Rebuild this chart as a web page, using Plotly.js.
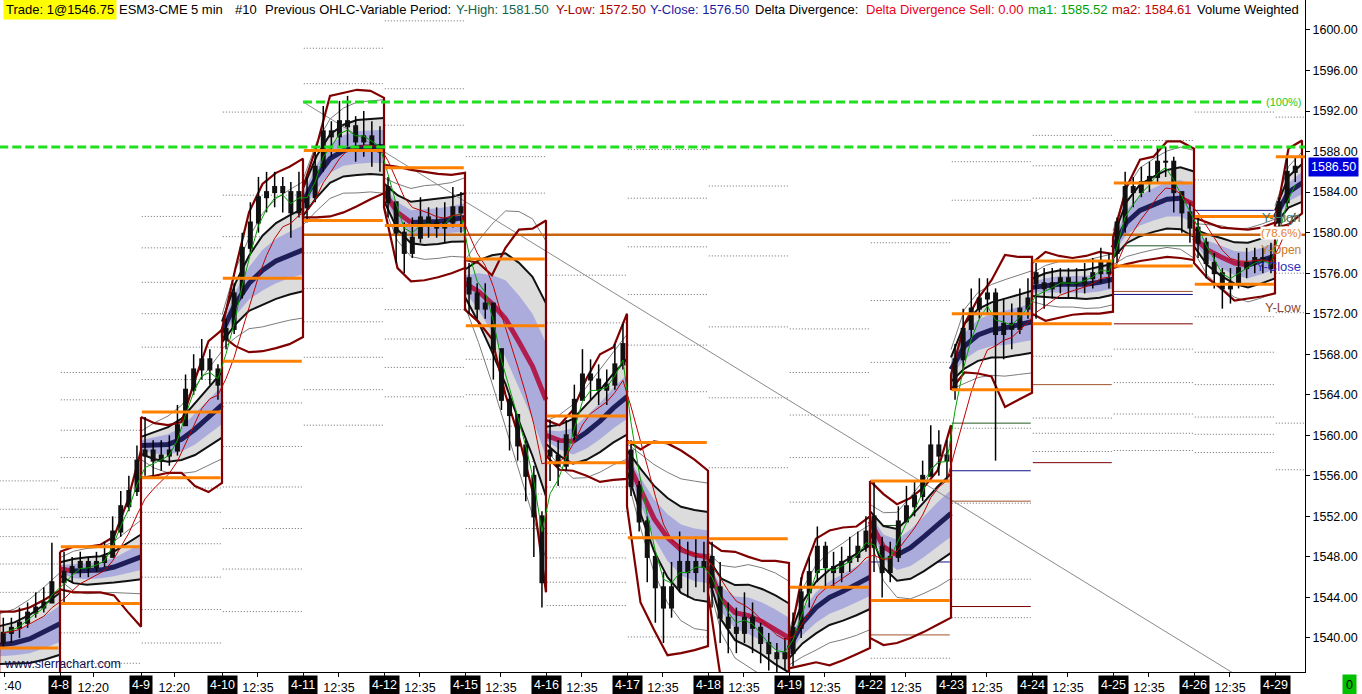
<!DOCTYPE html>
<html><head><meta charset="utf-8">
<script src="https://cdn.plot.ly/plotly-3.0.1.min.js"></script>
<style>html,body{margin:0;padding:0;background:#fff;overflow:hidden}#chart{width:1362px;height:694px}</style>
</head><body><div id="chart"></div>
<script>
// ---------------- DATA ----------------
// Session index -1 is the partial session before 4-8; 0..15 are the labelled sessions.
const sessionIndex = [-1,0,1,2,3,4,5,6,7,8,9,10,11,12,13,14,15];
const sessionLabels = ['4-8','4-9','4-10','4-11','4-12','4-15','4-16','4-17','4-18','4-19','4-22','4-23','4-24','4-25','4-26','4-29'];
const timeLabels = [':40','12:20','12:20','12:35','12:35','12:35','12:35','12:35','12:35','12:35','12:35','12:35','12:35','12:35','12:35','12:35'];

// Volume weighted average price per session (sampled through the session)
const vwap = [
 [1539.3,1539.5,1539.9,1540.6,1541.4],
 [1546.8,1546.6,1546.6,1546.7,1547.0,1547.5,1548.0],
 [1559.0,1559.0,1559.1,1559.6,1560.6,1561.8,1563.0],
 [1570.2,1573.0,1575.0,1576.3,1577.2,1577.8,1578.3],
 [1583.0,1585.5,1587.3,1588.1,1588.4,1588.5,1588.5],
 [1584.0,1582.0,1581.0,1581.0,1581.1,1581.3,1581.5],
 [1575.0,1574.2,1573.0,1571.5,1569.2,1566.8,1563.5],
 [1560.0,1559.5,1559.4,1560.3,1561.4,1562.7,1563.8],
 [1557.5,1554.5,1551.8,1549.9,1548.7,1548.2,1548.0],
 [1547.0,1543.8,1542.5,1542.2,1541.6,1540.8,1540.0],
 [1539.0,1541.5,1543.0,1544.0,1544.6,1545.3,1546.0],
 [1551.5,1549.0,1548.2,1548.9,1550.0,1551.2,1552.3],
 [1566.5,1568.8,1569.9,1570.4,1570.6,1570.9,1571.2],
 [1574.6,1574.8,1574.9,1574.9,1574.9,1575.1,1575.4],
 [1578.5,1581.0,1582.2,1582.8,1583.3,1583.4,1582.8],
 [1579.5,1578.3,1577.6,1577.0,1576.8,1577.2,1577.7],
 [1581.5,1584.0,1584.9]
];
// one standard deviation of the VWAP band
const stdDev = [
 [1.1,1.2,1.4,1.6,1.8],
 [0.4,0.7,0.8,0.8,0.9,1.1,1.3],
 [0.5,0.8,1.0,1.2,1.5,1.7,1.9],
 [0.6,1.2,1.6,2.0,2.2,2.3,2.4],
 [0.8,1.2,1.4,1.5,1.6,1.6,1.65],
 [0.5,1.0,1.2,1.3,1.3,1.3,1.4],
 [0.8,1.8,2.8,3.8,4.6,5.2,5.6],
 [0.5,0.9,1.3,1.6,1.8,2.0,2.2],
 [0.6,1.3,1.9,2.3,2.5,2.6,2.6],
 [0.5,1.2,1.6,1.8,1.9,2.0,2.0],
 [0.6,1.2,1.5,1.6,1.7,1.8,1.85],
 [0.6,1.2,1.5,1.8,2.0,2.2,2.3],
 [0.7,1.3,1.5,1.6,1.7,1.75,1.8],
 [0.5,0.7,0.8,0.8,0.85,0.9,0.9],
 [0.6,1.2,1.5,1.6,1.7,1.8,1.9],
 [0.5,0.9,1.1,1.2,1.3,1.3,1.3],
 [0.4,0.9,1.1]
];
const bandMultipliers = [1.0, 1.7, 2.8];
// session envelope (dark red)
const envHigh = [
 [1542.6,1542.6,1543.0,1543.8,1544.7],
 [1548.5,1549.0,1549.0,1549.2,1550.0,1553.5,1558.5],
 [1561.8,1561.2,1561.0,1561.3,1565.5,1569.3,1570.4],
 [1570.5,1576.5,1582.0,1584.8,1585.9,1586.5,1587.3],
 [1584.5,1588.5,1593.5,1593.8,1594.1,1594.0,1593.3],
 [1586.7,1586.5,1586.2,1586.0,1585.8,1585.7,1585.9],
 [1577.3,1577.0,1575.8,1578.5,1580.3,1580.4,1581.2],
 [1561.5,1561.0,1562.5,1565.6,1568.0,1568.7,1572.0],
 [1559.5,1558.6,1559.4,1559.2,1558.5,1557.6,1556.5],
 [1549.5,1548.6,1548.5,1548.0,1547.6,1547.6,1547.4],
 [1539.5,1546.3,1549.8,1550.6,1550.9,1551.0,1552.0],
 [1555.5,1554.2,1553.2,1553.8,1554.9,1556.5,1561.0],
 [1566.0,1571.0,1573.5,1575.3,1577.8,1577.6,1577.6],
 [1577.0,1578.1,1577.7,1577.5,1577.7,1578.1,1577.9],
 [1579.5,1584.5,1587.2,1587.5,1589.0,1589.0,1588.3],
 [1581.5,1581.0,1580.5,1580.4,1580.3,1580.5,1581.0],
 [1581.0,1588.3,1589.1]
];
const envLow = [
 [1534.0,1534.0,1534.0,1534.0,1534.0],
 [1544.8,1544.5,1544.5,1544.5,1544.2,1542.6,1541.1],
 [1555.8,1556.0,1556.3,1556.3,1555.0,1554.4,1555.3],
 [1569.8,1568.8,1568.2,1568.3,1568.6,1569.0,1569.7],
 [1581.5,1581.5,1581.6,1582.0,1582.6,1583.3,1583.9],
 [1582.5,1576.5,1575.2,1575.3,1575.6,1576.0,1576.5],
 [1572.4,1571.2,1569.5,1564.0,1559.8,1554.5,1544.5],
 [1558.0,1556.6,1556.5,1556.0,1555.4,1555.6,1555.7],
 [1553.0,1543.5,1540.8,1538.3,1538.5,1538.8,1539.2],
 [1544.5,1535.5,1534.5,1534.0,1534.0,1534.0,1534.0],
 [1537.0,1537.3,1537.6,1537.3,1537.8,1538.4,1539.0],
 [1540.0,1539.3,1539.5,1540.0,1540.6,1541.3,1542.0],
 [1564.5,1566.2,1566.1,1565.8,1562.8,1563.5,1564.2],
 [1572.0,1571.3,1571.6,1571.9,1572.0,1572.0,1572.2],
 [1576.5,1576.9,1577.2,1577.4,1577.6,1577.5,1577.3],
 [1577.0,1575.5,1574.5,1573.3,1573.5,1573.7,1574.0],
 [1580.5,1580.8,1581.9]
];
// price bars (open of first bar per session, then close/high/low)
const sessionOpen = [1539.5,1545.5,1558.0,1569.5,1582.5,1584.5,1575.5,1558.5,1558.5,1548.0,1538.5,1552.0,1564.5,1576.0,1578.0,1580.5,1581.0];
const closes = [
 [1540.5,1541.0,1541.5,1542.5,1543.0,1543.5,1545.5],
 [1546.5,1547.0,1547.5,1547.0,1547.5,1548.0,1550.5,1553.0,1554.5,1557.5],
 [1558.5,1557.5,1558.0,1558.5,1561.0,1564.5,1566.5,1567.5,1566.5,1565.0],
 [1570.5,1574.0,1578.5,1581.0,1583.5,1584.0,1584.5,1584.0,1582.0,1584.0],
 [1583.5,1586.5,1590.0,1589.5,1591.0,1590.5,1589.0,1589.5,1588.5,1588.0],
 [1583.0,1580.0,1578.0,1579.5,1581.5,1581.0,1580.5,1581.0,1582.5,1582.0],
 [1574.0,1572.5,1573.0,1568.5,1563.5,1562.0,1559.0,1556.0,1552.0,1545.5],
 [1558.0,1557.0,1560.0,1563.5,1566.0,1565.5,1564.5,1565.0,1567.0,1569.0],
 [1555.0,1551.5,1548.0,1545.0,1543.0,1545.0,1547.5,1546.5,1547.5,1547.0],
 [1545.0,1542.0,1541.0,1540.5,1542.0,1541.0,1539.5,1538.5,1538.0,1538.5],
 [1541.0,1544.5,1546.5,1549.0,1547.0,1546.5,1547.5,1548.0,1549.0,1550.5],
 [1549.0,1546.5,1548.0,1551.5,1553.0,1554.0,1556.0,1559.0,1558.0,1557.5],
 [1567.5,1570.5,1572.5,1573.5,1574.0,1570.0,1571.0,1570.5,1572.5,1573.5],
 [1575.0,1574.5,1575.0,1575.5,1575.0,1575.0,1575.5,1576.0,1577.0,1576.0],
 [1581.0,1584.5,1584.0,1585.0,1585.5,1587.0,1587.0,1584.0,1582.0,1580.5],
 [1579.0,1577.0,1576.0,1574.5,1575.0,1576.5,1577.0,1577.5,1577.5,1576.5],
 [1583.0,1586.0,1586.5]
];
const highs = [
 [1542.0,1542.0,1543.0,1543.5,1544.5,1545.0,1549.4],
 [1548.5,1548.0,1548.5,1548.0,1548.5,1549.5,1552.0,1554.5,1556.0,1559.0],
 [1561.8,1559.5,1559.5,1560.0,1563.0,1566.0,1568.0,1569.5,1568.5,1567.0],
 [1571.5,1575.0,1580.0,1583.0,1585.5,1586.0,1586.0,1585.5,1585.0,1586.0],
 [1585.5,1588.0,1592.5,1591.0,1593.0,1593.5,1591.5,1592.0,1591.0,1590.5],
 [1585.5,1583.0,1581.0,1581.5,1583.5,1582.5,1582.5,1583.0,1584.5,1584.0],
 [1577.0,1575.0,1575.0,1573.0,1568.5,1564.0,1562.0,1559.5,1557.0,1552.5],
 [1561.5,1559.5,1561.5,1565.0,1568.5,1567.5,1567.0,1566.5,1569.0,1571.0],
 [1559.5,1555.5,1552.0,1548.5,1546.5,1547.5,1550.5,1549.5,1550.0,1549.5],
 [1549.5,1547.5,1543.5,1543.0,1544.5,1543.5,1541.5,1540.5,1539.5,1540.0],
 [1542.5,1546.0,1548.0,1551.0,1549.5,1548.5,1549.0,1550.0,1550.5,1552.0],
 [1555.5,1550.0,1549.5,1553.0,1555.0,1555.5,1557.5,1561.0,1560.5,1559.5],
 [1569.0,1572.5,1574.5,1575.5,1575.5,1574.5,1573.5,1573.0,1574.5,1575.5],
 [1577.0,1576.5,1576.5,1576.5,1576.5,1576.5,1577.0,1577.5,1578.5,1578.0],
 [1581.5,1586.0,1585.5,1586.5,1587.0,1588.5,1588.5,1587.5,1584.0,1583.0],
 [1581.5,1579.5,1578.0,1576.5,1576.5,1578.0,1578.5,1578.5,1578.5,1579.0],
 [1583.5,1587.5,1587.5]
];
const lows = [
 [1539.0,1539.5,1540.0,1541.0,1542.0,1542.5,1543.5],
 [1543.5,1545.5,1546.0,1546.0,1546.5,1547.0,1548.0,1550.0,1552.5,1554.0],
 [1556.0,1556.0,1556.5,1557.0,1558.0,1561.0,1564.0,1565.5,1565.0,1563.5],
 [1568.5,1570.0,1573.5,1578.0,1580.0,1582.0,1582.5,1582.0,1579.5,1581.5],
 [1581.0,1583.0,1586.0,1587.5,1588.5,1588.5,1587.0,1587.5,1586.5,1586.0],
 [1581.5,1577.0,1576.0,1577.5,1579.0,1579.5,1579.5,1579.0,1580.5,1580.0],
 [1572.0,1571.5,1571.5,1565.5,1562.5,1558.5,1557.5,1553.5,1548.0,1543.0],
 [1555.5,1555.0,1556.5,1559.5,1563.5,1563.5,1563.0,1563.0,1564.5,1566.5],
 [1554.0,1550.5,1545.5,1541.5,1539.5,1542.0,1544.5,1544.0,1545.0,1544.5],
 [1543.0,1539.5,1538.5,1538.5,1539.5,1538.5,1537.5,1536.8,1536.5,1536.8],
 [1537.2,1540.0,1543.0,1545.5,1545.0,1545.0,1545.5,1546.5,1547.5,1548.5],
 [1546.5,1544.0,1545.5,1547.5,1551.5,1552.0,1553.5,1556.5,1556.0,1555.5],
 [1563.5,1566.5,1569.5,1571.5,1572.0,1557.5,1567.5,1568.5,1570.0,1571.5],
 [1571.5,1572.5,1573.5,1574.0,1573.5,1573.5,1574.0,1574.5,1575.0,1574.5],
 [1577.0,1580.0,1582.5,1583.5,1584.0,1585.0,1585.5,1582.0,1580.0,1579.0],
 [1577.5,1575.5,1574.5,1572.5,1573.0,1574.5,1575.5,1576.0,1576.0,1576.0],
 [1580.5,1582.5,1585.0]
];
// orange per-session lines
const orangeHigh = [null,1549.0,1562.3,1575.5,1588.1,1586.4,1577.4,1561.9,1559.3,1549.8,1545.0,1555.5,1572.0,1577.2,1584.9,1581.6,1587.5];
const orangeLow  = [1539.0,1543.4,1555.8,1567.3,1581.2,1580.7,1570.8,1557.3,1549.9,null,null,1543.7,1564.5,1571.0,1576.7,1574.9,null];
// previous-period OHLC lines
const prevHighLine  = [null,null,null,null,null,null,null,null,null,null,null,1551.1,1561.2,null,1578.7,null,null];
const prevCloseLine = [null,null,null,null,null,null,null,null,null,null,null,1547.5,1556.5,null,1573.9,1582.2,null];
const prevOpenLine  = [null,null,null,null,null,null,null,null,null,null,null,1540.3,1553.5,1565.0,1574.2,null,null];
const prevLowLine   = [null,null,null,null,null,null,null,null,null,null,null,null,1543.1,1557.3,1571.0,null,null];
// dotted per-session levels
const dottedLevels = [
 [1555.5,1552.7,1550.0,1547.3,1544.5],
 [1566.2,1563.5,1560.5,1557.8,1554.8,1551.9,1540.5,1537.5],
 [1581.6,1578.5,1575.1,1572.0,1568.7,1565.5,1554.8,1552.4,1549.3,1546.0,1542.8,1539.5],
 [1591.9,1583.7,1579.6,1563.2,1558.9,1554.9,1550.8,1546.8,1542.6],
 [1598.2,1594.7,1578.0,1574.5,1571.2,1567.7,1564.5,1561.0],
 [1600.9,1594.2,1590.6,1572.4,1569.5,1566.7,1563.8],
 [1587.5,1583.9,1567.5,1564.0,1560.9,1557.4,1554.2,1550.8],
 [1575.8,1571.1,1554.9,1552.5,1550.3,1547.9,1545.5,1543.2],
 [1588.2,1583.4,1578.6,1573.9,1568.9,1564.3,1540.1],
 [1584.6,1577.7,1570.7,1563.7,1556.8],
 [1570.5,1566.2,1562.0,1557.8,1553.4],
 [1579.0,1573.3,1567.2,1561.5,1538.0],
 [1587.0,1583.2,1560.7,1553.3,1545.8,1542.0],
 [1589.6,1586.6,1583.4,1567.8,1561.7,1560.2,1558.4],
 [1589.1,1568.5,1565.2,1562.1,1560.2,1558.5],
 [1591.9,1585.2,1571.7,1568.2,1565.0,1561.8,1560.1,1558.3],
 [1591.4,1576.0,1572.1,1561.2,1556.6]
];
// drawing-tool levels
const fibPrices = [1592.9, 1588.45];
const fibFrom   = [3.0, -0.75];
const fibTo     = [14.85, 15.4];
const retracePrice = 1579.8, retraceFrom = 3.0, retraceTo = 15.4;
const trendX = [3.0, 14.47];
const trendY = [1592.9, 1536.6];
const lastPrice = 1586.50;

// ---------------- BUILD ----------------
const FONT = 'Liberation Sans, Arial, sans-serif';
function bandX(si, n){ return si===-1 ? Array.from({length:n},(_,j)=>-0.75+0.75*j/(n-1)) : Array.from({length:n},(_,j)=>si+j/6); }
function candleX(si, j){ return si===-1 ? -0.7+0.1*j : si+0.05+0.1*j; }
function spanX(si){ return si===-1 ? [-0.745,-0.02] : [si+0.01, si+0.985]; }

function bandPolygon(m){
  const xs=[], ys=[];
  sessionIndex.forEach((si,i)=>{
    const x=bandX(si,vwap[i].length);
    const up=vwap[i].map((v,j)=>v+m*stdDev[i][j]);
    const dn=vwap[i].map((v,j)=>v-m*stdDev[i][j]);
    xs.push(...x, ...x.slice().reverse(), x[0], null);
    ys.push(...up, ...dn.slice().reverse(), up[0], null);
  });
  return {xs, ys};
}
function bandLines(m){
  const xs=[], ys=[];
  sessionIndex.forEach((si,i)=>{
    const x=bandX(si,vwap[i].length);
    xs.push(...x, null, ...x, null);
    ys.push(...vwap[i].map((v,j)=>v+m*stdDev[i][j]), null, ...vwap[i].map((v,j)=>v-m*stdDev[i][j]), null);
  });
  return {xs, ys};
}
function levelSegs(arr){
  const xs=[], ys=[];
  sessionIndex.forEach((si,i)=>{
    const v=arr[i]; if(v===null||v===undefined) return;
    const s=spanX(si);
    xs.push(s[0], s[1], null); ys.push(v, v, null);
  });
  return {xs, ys};
}
function multiLevelSegs(arrs){
  const xs=[], ys=[];
  sessionIndex.forEach((si,i)=>{
    const s=spanX(si);
    arrs[i].forEach(v=>{ xs.push(s[0], s[1], null); ys.push(v, v, null); });
  });
  return {xs, ys};
}
function line(d, color, width, dash, extra){
  return Object.assign({type:'scatter', mode:'lines', x:d.xs, y:d.ys, line:{color, width, dash:dash||'solid'}, hoverinfo:'skip', connectgaps:false}, extra||{});
}

const traces = [];
traces.push(line(multiLevelSegs(dottedLevels), '#6a6a6a', 1, '1px,2px'));
traces.push(line(levelSegs(prevHighLine), '#1f5a1f', 1));
traces.push(line(levelSegs(prevCloseLine), '#10108a', 1));
traces.push(line(levelSegs(prevOpenLine), '#a0522d', 1));
traces.push(line(levelSegs(prevLowLine), '#7a0000', 1));

const outer = bandPolygon(bandMultipliers[1]);
traces.push(line(outer, 'rgba(0,0,0,0)', 0, null, {fill:'toself', fillcolor:'#dcdcdc'}));
const inner = bandPolygon(bandMultipliers[0]);
traces.push(line(inner, 'rgba(0,0,0,0)', 0, null, {fill:'toself', fillcolor:'#abacdc'}));
traces.push(line(bandLines(bandMultipliers[2]), '#7c7c7c', 1));
traces.push(line(bandLines(bandMultipliers[1]), '#111111', 2));

traces.push(line({xs:trendX, ys:trendY}, '#8a8a8a', 1));
traces.push(line({xs:[retraceFrom, retraceTo], ys:[retracePrice, retracePrice]}, '#c8650c', 2.5));

// VWAP coloured by slope
const vwN={xs:[],ys:[]}, vwC={xs:[],ys:[]};
sessionIndex.forEach((si,i)=>{
  const x=bandX(si,vwap[i].length), v=vwap[i];
  let cur=null, run=null;
  for(let j=0;j<v.length-1;j++){
    const c = v[j+1] < v[j] ? 'c' : 'n';
    const tgt = c==='c' ? vwC : vwN;
    if(c!==cur){ if(run){run.xs.push(null); run.ys.push(null);} tgt.xs.push(x[j]); tgt.ys.push(v[j]); cur=c; run=tgt; }
    tgt.xs.push(x[j+1]); tgt.ys.push(v[j+1]);
  }
  if(run){run.xs.push(null); run.ys.push(null);}
});
traces.push(line(vwN, '#1e1e58', 5));
traces.push(line(vwC, '#b01e50', 5));

// envelope
const env={xs:[],ys:[]};
sessionIndex.forEach((si,i)=>{
  const x=bandX(si,envHigh[i].length);
  env.xs.push(...x, ...x.slice().reverse(), x[0], null);
  env.ys.push(...envHigh[i], ...envLow[i].slice().reverse(), envHigh[i][0], null);
});
traces.push(line(env, '#800000', 2.2));

// candles
const wick={xs:[],ys:[]}, body={xs:[],ys:[]}, cx=[], cc=[];
sessionIndex.forEach((si,i)=>{
  closes[i].forEach((c,j)=>{
    const x=candleX(si,j);
    const o = j===0 ? sessionOpen[i] : closes[i][j-1];
    wick.xs.push(x,x,null); wick.ys.push(lows[i][j], highs[i][j], null);
    body.xs.push(x,x,null); body.ys.push(Math.min(o,c)-0.1, Math.max(o,c)+0.1, null);
    cx.push(x); cc.push(c);
  });
});
traces.push(line(wick, '#000', 1.5));
traces.push(line(body, '#111', 5));

// moving averages of the closes
function ema(vals, a){ let e=vals[0]; return vals.map(v=> (e = e + a*(v-e))); }
traces.push(line({xs:cx, ys:ema(cc,0.5)}, '#00a000', 1));
traces.push(line({xs:cx, ys:ema(cc,0.25)}, '#c00000', 1));

traces.push(line(levelSegs(orangeHigh), '#ff8000', 3));
traces.push(line(levelSegs(orangeLow), '#ff8000', 3));

fibPrices.forEach((p,k)=>{
  traces.push(line({xs:[fibFrom[k], fibTo[k]], ys:[p,p]}, '#1ee01e', 3, '9px,4px'));
});

// ---------------- AXES / ANNOTATIONS ----------------
const tickvals=[], ticktext=[];
timeLabels.forEach((t,i)=>{
  const pos = i===0 ? -0.685 : (i-1) + (t==='12:20' ? 0.41 : 0.444);
  tickvals.push(pos); ticktext.push(i===0 ? '' : t);
});
sessionLabels.forEach((s,i)=>{ tickvals.push(i); ticktext.push(''); });

const PW = 1305, PH = 672;
const px = v => v/PW, py = v => 1 - v/PH;
const ann = [];
function hdr(text, x, color, bg){
  ann.push({text, x:px(x), y:py(10), xref:'paper', yref:'paper', xanchor:'left', yanchor:'middle', showarrow:false,
    font:{family:FONT, size:13, color}, bgcolor:bg||'rgba(0,0,0,0)', borderpad: bg?2:0});
}
hdr('Trade: 1@1546.75', 3, '#000', '#ffff00');
hdr('ESM3-CME', 118, '#000');
hdr('5 min', 190, '#000');
hdr('#10', 234, '#000');
hdr('Previous OHLC-Variable Period:', 264, '#000');
hdr('Y-High: 1581.50', 455, '#0f6650');
hdr('Y-Low: 1572.50', 555, '#a80000');
hdr('Y-Close: 1576.50', 649, '#1c1ca0');
hdr('Delta Divergence:', 754, '#000');
hdr('Delta Divergence Sell: 0.00', 865, '#e8001c');
hdr('ma1: 1585.52', 1027, '#00a000');
hdr('ma2: 1584.61', 1111, '#c00000');
hdr('Volume Weighted', 1196, '#000');

// first (partial) time label, kept inside the picture
ann.push({text:timeLabels[0], x:px(2), y:py(686), xref:'paper', yref:'paper', xanchor:'left', yanchor:'middle', showarrow:false,
  font:{family:FONT, size:12.5, color:'#000'}});
sessionLabels.forEach((s,i)=>{
  ann.push({text:s, x:i, xref:'x', y:py(685), yref:'paper', xanchor:'center', yanchor:'middle', showarrow:false,
    font:{family:FONT, size:12.5, color:'#fff'}, bgcolor:'#000', borderpad:2});
});
ann.push({text:lastPrice.toFixed(2), x:1, xref:'paper', xshift:3, y:lastPrice, yref:'y', xanchor:'left', yanchor:'middle', showarrow:false,
  font:{family:FONT, size:12.5, color:'#fff'}, bgcolor:'#0000dd', borderpad:2});
ann.push({text:'0', x:px(1349), y:py(685), xref:'paper', yref:'paper', xanchor:'center', yanchor:'middle', showarrow:false,
  font:{family:FONT, size:12.5, color:'#000'}, bgcolor:'#00c000', borderpad:3});
ann.push({text:'www.sierrachart.com', x:px(2), y:py(664), xref:'paper', yref:'paper', xanchor:'left', yanchor:'middle', showarrow:false,
  font:{family:FONT, size:12.5, color:'#101050'}});
function rlab(text, y, color, size, bg){
  ann.push({text, x:px(1302), y, xref:'paper', yref:'y', xanchor:'right', yanchor:'middle', showarrow:false,
    font:{family:FONT, size:size||13, color}, bgcolor:bg||'rgba(0,0,0,0)', borderpad:0});
}
rlab('(100%)', fibPrices[0], '#22cc22', 11);
rlab('Y-High', 1581.45, '#3c7a6a', 13);
rlab('(78.6%)', retracePrice + 0.15, '#e8801e', 11.5, '#ffffff');
rlab('Y-Open', 1578.3, '#c87a2a', 12);
rlab('Y-Close', 1576.7, '#3030c0', 13);
rlab('Y-Low', 1572.6, '#8b4a3a', 13);

const layout = {
  width:1362, height:694,
  margin:{l:0, r:57, t:0, b:22, pad:0},
  paper_bgcolor:'#fff', plot_bgcolor:'#fff',
  showlegend:false, hovermode:false,
  font:{family:FONT, size:12.5, color:'#000'},
  xaxis:{range:[-60/81, 1245/81], showgrid:false, zeroline:false, showline:true, linecolor:'#000', linewidth:1,
    ticks:'outside', ticklen:4, tickcolor:'#000', tickvals, ticktext,
    tickfont:{family:FONT, size:12.5, color:'#000'}, fixedrange:true},
  yaxis:{side:'right', range:[1536.64, 1602.96], tick0:1540, dtick:4, tickformat:'.2f', showgrid:false, zeroline:false,
    showline:true, linecolor:'#000', linewidth:1, ticks:'outside', ticklen:4, tickcolor:'#000',
    tickfont:{family:FONT, size:12.5, color:'#000'}, fixedrange:true},
  annotations: ann
};
Plotly.newPlot('chart', traces, layout, {displayModeBar:false, staticPlot:true});
</script></body></html>
